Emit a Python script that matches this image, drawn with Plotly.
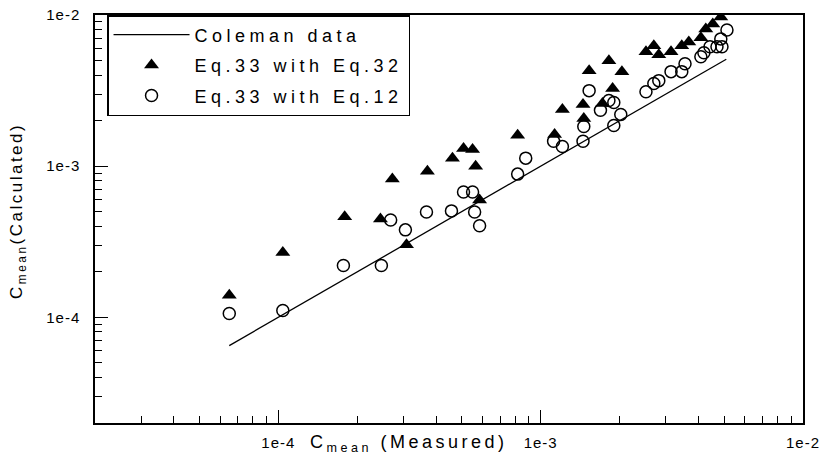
import plotly.graph_objects as go
import numpy as np

# Coleman data line (y = x reference)
line_x = [6.5e-5, 5.1e-3]
line_y = [6.5e-5, 5.1e-3]

# Eq.33 with Eq.32 (filled triangles)
tri_x = [6.50e-5, 1.04e-4, 1.79e-4, 2.45e-4, 2.72e-4, 3.08e-4, 3.70e-4, 4.61e-4,
         5.08e-4, 5.50e-4, 5.65e-4, 5.85e-4, 8.17e-4, 1.13e-3, 1.21e-3, 1.45e-3,
         1.46e-3, 1.53e-3, 1.72e-3, 1.82e-3, 1.88e-3, 2.04e-3, 2.52e-3, 2.70e-3,
         2.82e-3, 3.14e-3, 3.45e-3, 3.67e-3, 4.08e-3, 4.26e-3, 4.53e-3, 4.86e-3]
tri_y = [1.40e-4, 2.68e-4, 4.62e-4, 4.48e-4, 8.21e-4, 3.02e-4, 9.27e-4, 1.13e-3,
         1.31e-3, 1.29e-3, 1.00e-3, 5.97e-4, 1.60e-3, 1.62e-3, 2.37e-3, 2.56e-3,
         2.07e-3, 4.28e-3, 2.60e-3, 4.98e-3, 3.26e-3, 4.22e-3, 5.71e-3, 6.25e-3,
         5.46e-3, 5.71e-3, 6.25e-3, 6.64e-3, 7.06e-3, 8.09e-3, 8.73e-3, 9.70e-3]

# Eq.33 with Eq.12 (open circles)
cir_x = [6.50e-5, 1.04e-4, 1.77e-4, 2.47e-4, 2.68e-4, 3.05e-4, 3.67e-4, 4.57e-4,
         5.08e-4, 5.50e-4, 5.60e-4, 5.85e-4, 8.17e-4, 8.77e-4, 1.12e-3, 1.21e-3,
         1.45e-3, 1.46e-3, 1.53e-3, 1.69e-3, 1.82e-3, 1.90e-3, 1.90e-3, 2.02e-3,
         2.52e-3, 2.70e-3, 2.82e-3, 3.14e-3, 3.45e-3, 3.55e-3, 4.08e-3, 4.19e-3,
         4.42e-3, 4.70e-3, 4.91e-3, 4.86e-3, 5.13e-3]
cir_y = [1.06e-4, 1.11e-4, 2.20e-4, 2.20e-4, 4.41e-4, 3.79e-4, 4.98e-4, 5.06e-4,
         6.74e-4, 6.74e-4, 4.98e-4, 4.03e-4, 8.86e-4, 1.13e-3, 1.46e-3, 1.35e-3,
         1.46e-3, 1.83e-3, 3.16e-3, 2.34e-3, 2.72e-3, 2.64e-3, 1.86e-3, 2.20e-3,
         3.11e-3, 3.52e-3, 3.68e-3, 4.22e-3, 4.22e-3, 4.76e-3, 5.29e-3, 5.62e-3,
         6.16e-3, 6.16e-3, 6.16e-3, 6.95e-3, 7.96e-3]

major_vals = [1e-4, 1e-3, 1e-2]
major_text = ["1e-4", "1e-3", "1e-2"]
minor_vals = [m * 10.0 ** e for e in (-5, -4, -3) for m in range(2, 10)]

FONT = "Liberation Sans, Arial, sans-serif"


def sp(t, ls):
    return '<span style="letter-spacing:%spx">%s</span>' % (ls, t)


fig = go.Figure()
fig.add_trace(go.Scatter(x=line_x, y=line_y, mode="lines", name=sp("Coleman data", 4.5),
                         line=dict(color="black", width=1.3), legendgroup="a"))
fig.add_trace(go.Scatter(x=tri_x, y=tri_y, mode="markers", name=sp("Eq.33 with Eq.32", 4.5),
                         marker=dict(symbol="triangle-up", size=13, color="black"),
                         legendgroup="b"))
fig.add_trace(go.Scatter(x=cir_x, y=cir_y, mode="markers", name=sp("Eq.33 with Eq.12", 4.5),
                         marker=dict(symbol="circle-open", size=12, color="black",
                                     line=dict(width=1.5, color="black")),
                         legendgroup="c"))

axis_common = dict(
    type="log",
    range=[np.log10(2e-5), -2],
    automargin=False,
    tickmode="array",
    tickvals=major_vals,
    ticktext=[sp(t, 1) for t in major_text],
    ticks="inside",
    ticklen=13,
    tickwidth=1.3,
    tickcolor="black",
    showline=True,
    linecolor="black",
    linewidth=1.5,
    mirror=True,
    showgrid=False,
    zeroline=False,
    tickfont=dict(family=FONT, size=15, color="black"),
    minor=dict(tickmode="array", tickvals=minor_vals, ticks="inside", ticklen=7,
               tickwidth=1.2, tickcolor="black", showgrid=False),
)

fig.update_xaxes(**axis_common, ticklabelstandoff=5)
fig.update_yaxes(**axis_common, ticklabelstandoff=10)

fig.update_layout(
    width=822, height=460,
    margin=dict(l=95, r=19, t=15, b=37, autoexpand=False),
    paper_bgcolor="white", plot_bgcolor="white",
    font=dict(family=FONT, color="black"),
    showlegend=True,
    legend=dict(x=0.017, y=1, xanchor="left", yanchor="top",
                bordercolor="black", borderwidth=1.5, bgcolor="white",
                font=dict(family=FONT, size=18, color="black"),
                tracegroupgap=4, itemwidth=76),
    annotations=[
        dict(text=sp("C<sub>mean</sub> (Measured)", 3.5), xref="paper", yref="paper",
             x=(308 - 95) / 708, y=-(443 - 423) / 408, xanchor="left", yanchor="middle",
             showarrow=False, font=dict(family=FONT, size=18, color="black")),
        dict(text=sp("C<sub>mean</sub>(Calculated)", 2.5), xref="paper", yref="paper",
             x=(18 - 95) / 708, y=(423 - 211) / 408, xanchor="center", yanchor="middle",
             textangle=-90, showarrow=False,
             font=dict(family=FONT, size=17, color="black")),
    ],
)

fig.write_html("out.html",
               config={"displayModeBar": False},
               post_script="document.body.style.margin='0';document.body.style.overflow='hidden';")
